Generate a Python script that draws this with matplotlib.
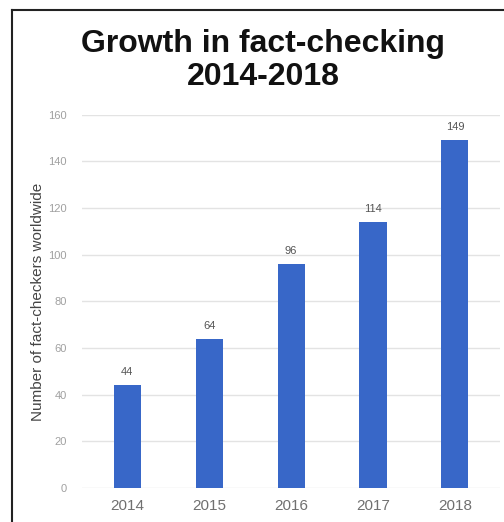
import matplotlib.pyplot as plt
from matplotlib.lines import Line2D

years = ["2014", "2015", "2016", "2017", "2018"]
checkers = [44, 64, 96, 114, 149]
y_ticks = [0, 20, 40, 60, 80, 100, 120, 140, 160]

plt.rcParams['font.family'] = ['Liberation Sans', 'DejaVu Sans']

fig = plt.figure(figsize=(5.04, 5.22), dpi=100)
ax = fig.add_axes([0.163, 0.065, 0.829, 0.715])

x = range(len(years))
bars = ax.bar(x, checkers, width=0.33, color='#3867c8', zorder=3)

ax.set_xlim(-0.55, len(years) - 0.45)
ax.set_ylim(0, 160)
ax.set_yticks(y_ticks)
ax.set_yticklabels([str(t) for t in y_ticks], fontsize=8, color='#a0a0a0')
ax.set_xticks(list(x))
ax.set_xticklabels(years, fontsize=11, color='#707070')
ax.tick_params(axis='both', length=0)
ax.tick_params(axis='y', pad=11)
ax.tick_params(axis='x', pad=8)
ax.grid(axis='y', color='#e3e3e3', linewidth=1, zorder=0)
for s in ax.spines.values():
    s.set_visible(False)

ax.set_ylabel("Number of fact-checkers worldwide", fontsize=11, color='#444444', labelpad=2)

# 柱顶数值
for xi, v in zip(x, checkers):
    ax.text(xi, v + 3.5, str(v), ha='center', va='bottom', fontsize=8, color='#555555')

fig.text(0.522, 0.944, "Growth in fact-checking\n2014-2018", ha='center', va='top',
         fontsize=23, fontweight='bold', color='#111111', linespacing=1.12)

# 外框
fig.add_artist(Line2D([0.024, 1.0], [0.981, 0.981], color='#222222', lw=1.5))
fig.add_artist(Line2D([0.024, 0.024], [0.0, 0.981], color='#222222', lw=1.5))

fig.savefig("out.png", dpi=100, facecolor='white')
